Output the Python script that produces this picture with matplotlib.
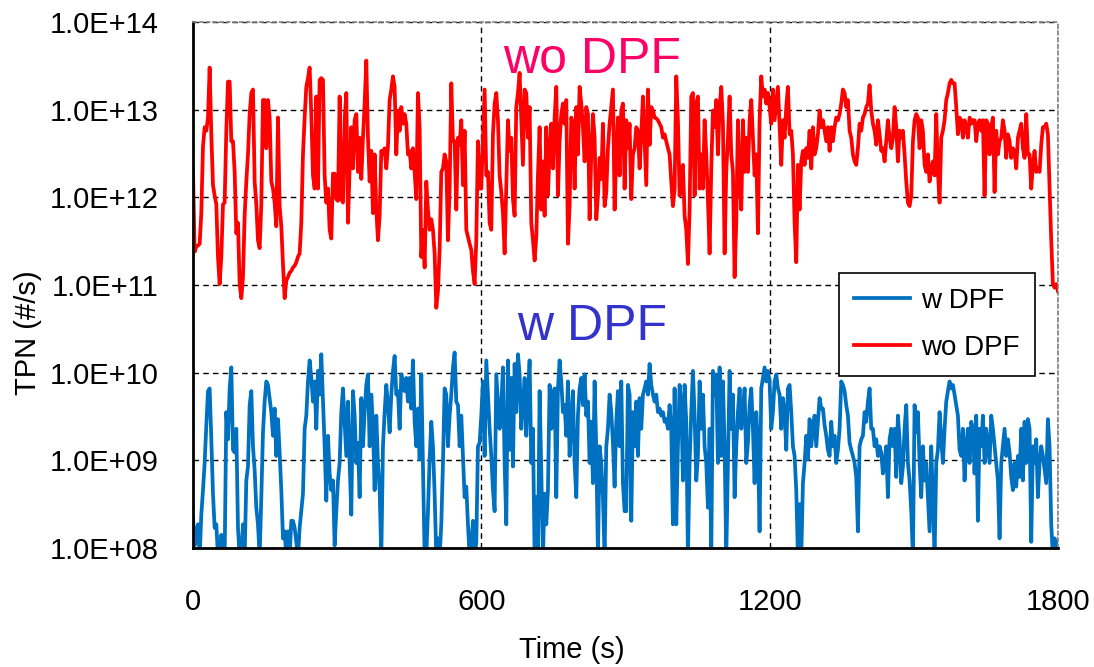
import numpy as np
import matplotlib.pyplot as plt

plt.rcParams['font.family'] = ['Liberation Sans', 'DejaVu Sans']

wo_dpf_log = [
    12.31, 11.38, 11.44, 11.45, 11.47, 11.82, 12.58, 12.80, 12.76, 12.91,
    13.48, 12.72, 12.14, 12.02, 11.92, 11.32, 11.01, 11.32, 11.92, 11.94,
    12.76, 13.32, 13.32, 12.64, 12.64, 12.29, 11.59, 11.71, 11.01, 10.85,
    11.09, 11.79, 12.18, 12.49, 12.95, 13.19, 13.23, 12.18, 11.92, 11.51,
    11.42, 11.92, 13.11, 13.11, 12.56, 13.11, 12.91, 12.18, 12.10, 11.94,
    11.67, 12.91, 11.90, 11.67, 11.24, 10.85, 11.05, 11.09, 11.14, 11.16,
    11.20, 11.22, 11.26, 11.32, 11.36, 11.71, 12.49, 12.91, 13.26, 13.36,
    13.48, 12.95, 12.25, 12.10, 13.15, 12.10, 13.34, 13.36, 13.34, 12.25,
    11.94, 12.10, 11.63, 11.53, 12.27, 12.27,
    11.98, 11.96, 13.15, 11.98, 11.94, 12.88, 13.19, 11.71, 12.33, 12.80,
    12.33, 12.88, 12.95, 12.29, 12.68, 12.21, 12.68, 13.07, 13.56, 12.68,
    12.18, 12.53, 11.82, 12.49, 11.86, 11.51, 11.79, 12.53, 12.49, 12.56,
    12.33, 12.58, 13.11, 13.23, 13.38, 13.26, 12.49, 12.99, 12.76, 13.03,
    12.84, 12.95, 12.84, 12.49, 12.53, 12.33, 12.56, 12.29, 11.98, 13.19,
    12.80, 11.32, 11.63, 11.20, 12.18, 11.86, 11.63, 11.75, 11.63, 11.36,
    10.74, 10.93, 11.40, 12.29, 12.33, 12.49, 12.41, 11.51, 12.10, 13.30,
    12.64, 12.64, 11.86, 12.68, 12.60, 12.88, 12.14, 12.76, 11.63, 11.55,
    11.47, 11.40, 11.16, 11.01, 11.51, 12.64, 12.10,
    12.10, 12.68, 13.23, 12.25, 12.29, 11.71, 11.63, 12.72, 13.07, 13.19,
    12.88, 12.25, 12.06, 11.82, 11.36, 12.10, 12.88, 12.53, 12.68, 11.98,
    11.79, 13.03, 13.19, 13.42, 12.88, 12.37, 13.23, 13.19, 12.68, 13.03,
    11.71, 11.51, 11.28, 11.55, 12.25, 12.80, 11.86, 12.41, 11.79, 12.80,
    12.02, 12.53, 12.84, 12.33, 12.91, 13.26, 12.02, 12.64, 12.95, 13.07,
    12.84, 13.11, 11.47, 11.90, 12.91, 12.84, 12.10, 13.03, 12.49, 13.26,
    13.07, 12.80, 12.41, 13.03, 12.95, 11.75, 12.49, 12.95, 12.68, 11.75,
    12.02, 12.45, 12.21, 12.84, 11.90, 12.06, 12.56, 12.84, 13.03, 13.23,
    11.86, 12.49, 12.91, 12.25, 12.99, 13.07, 12.10,
    12.88, 12.56, 12.84, 11.98, 12.49, 12.56, 12.80, 12.76, 12.33, 12.72,
    13.15, 12.64, 12.14, 13.23, 12.60, 13.03, 12.99, 12.91, 12.90, 12.88,
    12.84, 12.80, 12.68, 12.72, 12.64, 12.56, 12.49, 12.18, 11.90, 12.10,
    13.38, 12.88, 12.02, 12.29, 12.37, 11.79, 11.63, 11.24, 11.86, 13.15,
    13.19, 12.02, 13.07, 13.15, 12.10, 12.49, 12.10, 12.88, 12.49, 11.98,
    11.36, 12.33, 12.99, 12.80, 13.11, 12.49, 13.03, 13.26, 12.84, 11.36,
    12.29, 12.68, 13.15, 12.49, 12.29, 11.09, 11.71, 12.88, 12.21, 11.86,
    12.88, 12.29, 12.68, 12.29, 12.88, 13.11, 12.68, 12.25, 12.49, 11.59,
    12.88, 13.38, 13.15, 13.23, 13.07, 13.19, 13.03,
    12.84, 13.23, 12.88, 13.07, 13.26, 12.80, 12.37, 12.88, 12.68, 13.03,
    13.26, 12.72, 12.76, 12.49, 11.71, 11.26, 12.37, 11.86, 12.41, 12.53,
    12.37, 12.56, 12.45, 12.76, 12.33, 12.80, 12.49, 12.56, 12.72, 12.99,
    12.80, 12.88, 12.76, 12.64, 12.80, 12.53, 12.80, 12.64, 12.80, 12.91,
    12.88, 12.95, 13.07, 13.23, 13.19, 13.03, 13.11, 12.76, 12.68, 12.49,
    12.41, 12.37, 12.56, 12.84, 12.76, 12.91, 12.95, 13.03, 13.07, 13.28,
    12.99, 12.84, 12.76, 12.60, 12.88, 12.72, 12.53, 12.56, 12.41, 12.64,
    12.88, 12.68, 12.56, 12.68, 13.03, 12.80, 12.41, 12.76, 12.68, 12.76,
    12.49, 12.18, 11.94, 11.90, 12.02, 12.64, 12.88,
    12.95, 12.91, 12.56, 12.88, 12.76, 12.37, 12.29, 12.49, 12.18, 12.33,
    12.41, 12.25, 12.95, 12.29, 11.94, 12.68, 12.76, 12.88, 13.11, 13.19,
    13.30, 13.34, 13.30, 13.30, 13.03, 12.72, 12.91, 12.88, 12.68, 12.88,
    12.80, 12.68, 12.91, 12.84, 12.88, 12.88, 12.64, 12.84, 12.88, 12.76,
    12.88, 12.02, 12.88, 12.84, 12.49, 12.80, 12.91, 12.06, 12.76, 12.49,
    12.64, 12.68, 12.88, 12.76, 12.45, 12.72, 12.64, 12.45, 12.56, 12.53,
    12.33, 12.68, 12.76, 12.84, 12.56, 12.45, 12.95, 12.49, 12.49, 12.10,
    12.37, 12.53, 12.29, 12.33, 12.29, 12.60, 12.80, 12.80, 12.84, 12.72,
    12.10, 11.51, 11.01, 10.97, 11.01, 10.93,
]

w_dpf_log = [
    8.35, 8.03, 8.19, 8.27, 7.90, 8.38, 8.66, 8.97, 9.40, 9.79,
    9.82, 9.24, 8.62, 8.23, 8.27, 7.90, 7.90, 8.15, 8.03, 7.90,
    9.55, 9.24, 9.82, 10.06, 9.12, 9.09, 9.36, 8.23, 7.90, 7.90,
    8.27, 7.90, 8.77, 8.93, 9.63, 9.79, 9.16, 8.89, 8.46, 8.27,
    7.90, 8.58, 9.32, 9.67, 9.90, 9.86, 9.71, 9.55, 9.28, 9.59,
    9.05, 9.47, 9.09, 8.66, 8.11, 8.19, 7.90, 8.19, 7.90, 8.31,
    8.31, 8.23, 8.07, 7.90, 8.23, 8.42, 8.62, 9.36, 9.51, 9.90,
    10.14, 9.94, 9.67, 9.90, 9.36, 10.02, 9.75, 10.21, 9.67, 9.16,
    8.54, 9.28, 8.85, 8.66, 8.77, 8.03,
    8.42, 8.77, 8.97, 9.55, 9.82, 9.44, 9.05, 9.67, 8.97, 8.38,
    9.79, 9.51, 8.97, 9.20, 8.58, 9.71, 9.16, 9.55, 9.86, 9.98,
    9.16, 9.75, 9.40, 8.66, 9.51, 8.97, 8.66, 7.90, 9.16, 9.55,
    9.86, 9.63, 9.32, 9.75, 10.02, 10.19, 9.75, 9.79, 9.36, 9.98,
    9.90, 9.79, 9.94, 9.67, 9.94, 9.59, 10.14, 9.44, 9.16, 9.59,
    9.01, 9.98, 8.97, 7.90, 7.90, 8.42, 9.01, 9.44, 9.16, 8.62,
    7.90, 8.11, 7.90, 8.27, 8.97, 9.82, 9.75, 9.16, 9.51, 9.75,
    10.06, 10.23, 9.67, 9.63, 9.16, 9.51, 9.05, 8.58, 8.70, 8.27,
    7.90, 8.03, 8.31, 7.90, 8.07, 9.16, 9.20,
    9.51, 9.90, 9.05, 10.14, 9.75, 9.36, 9.05, 8.66, 8.42, 9.98,
    9.67, 9.36, 9.63, 10.06, 8.97, 8.27, 10.14, 9.12, 9.94, 8.93,
    10.10, 9.55, 10.21, 9.98, 9.36, 9.63, 9.94, 9.28, 9.75, 10.14,
    8.97, 9.36, 7.90, 8.58, 7.90, 9.79, 8.89, 7.90, 8.62, 8.27,
    8.66, 9.86, 9.36, 9.75, 9.82, 8.58, 9.82, 10.14, 9.90, 9.55,
    9.63, 9.28, 9.90, 9.05, 9.44, 9.79, 8.97, 8.58, 9.51, 9.82,
    9.94, 9.63, 9.98, 9.51, 9.67, 8.97, 9.44, 8.74, 9.90, 9.12,
    7.90, 9.16, 8.97, 8.58, 7.90, 9.16, 9.36, 9.75, 9.55, 9.20,
    8.70, 9.44, 9.79, 9.16, 9.90, 8.74, 8.42,
    8.42, 9.86, 9.75, 8.31, 9.55, 9.16, 9.67, 9.05, 9.71, 9.36,
    9.75, 9.82, 9.90, 9.75, 10.10, 9.86, 9.75, 9.67, 9.75, 9.55,
    9.59, 9.51, 9.55, 9.44, 9.47, 9.36, 9.63, 9.36, 8.27, 9.82,
    8.27, 9.16, 9.86, 9.67, 8.77, 9.86, 9.44, 7.90, 8.97, 9.55,
    10.02, 9.51, 8.77, 9.05, 9.90, 9.36, 9.75, 9.16, 8.97, 8.46,
    9.36, 7.90, 10.02, 9.75, 9.98, 8.97, 10.06, 9.05, 9.90, 9.16,
    7.90, 8.97, 10.02, 9.36, 9.75, 8.58, 9.16, 9.55, 9.82, 9.36,
    9.55, 9.82, 8.97, 9.20, 9.63, 9.82, 9.36, 8.74, 9.55, 9.16,
    8.19, 9.82, 9.94, 10.06, 9.90, 10.02, 9.90,
    9.36, 9.55, 9.90, 9.98, 9.82, 9.75, 9.36, 9.71, 9.55, 9.12,
    9.82, 9.86, 9.55, 9.16, 9.05, 8.66, 7.90, 8.50, 7.90, 8.74,
    8.97, 9.28, 9.01, 9.47, 9.16, 9.36, 9.51, 9.16, 9.44, 9.71,
    9.59, 9.59, 9.40, 9.28, 9.12, 9.05, 9.44, 9.16, 9.28, 8.97,
    9.12, 9.36, 9.90, 9.86, 9.79, 9.63, 9.51, 9.20, 9.12, 9.05,
    8.97, 8.81, 8.19, 9.16, 9.24, 9.28, 9.55, 9.44, 9.67, 9.82,
    9.36, 9.36, 9.16, 9.24, 9.05, 9.16, 9.09, 8.85, 8.97, 9.16,
    8.58, 9.24, 9.36, 9.16, 9.36, 8.81, 9.51, 9.24, 8.74, 8.93,
    9.36, 9.63, 8.97, 8.77, 8.42, 7.90, 9.63,
    9.32, 9.55, 8.97, 8.58, 9.16, 8.77, 8.97, 8.58, 8.19, 9.16,
    8.58, 7.90, 8.97, 9.12, 9.55, 9.24, 8.97, 9.36, 9.67, 9.79,
    9.90, 9.82, 9.86, 9.75, 9.63, 9.51, 9.12, 9.05, 9.36, 8.77,
    9.16, 9.36, 8.97, 9.44, 9.36, 8.85, 9.51, 8.31, 9.36, 9.16,
    9.51, 8.97, 9.36, 9.16, 8.97, 9.51, 9.36, 9.16, 8.97, 8.77,
    8.11, 8.97, 9.16, 9.36, 9.05, 9.24, 9.09, 8.81, 8.66, 8.97,
    8.70, 9.05, 8.81, 9.36, 8.77, 9.44, 8.97, 9.47, 9.36, 8.07,
    9.16, 8.97, 9.24, 8.58, 8.97, 9.16, 9.05, 8.89, 8.74, 9.47,
    9.16, 8.27, 7.90, 8.11, 7.90, 8.07,
]

time_s = np.linspace(0, 1800, len(wo_dpf_log))
tpn_wo = 10 ** np.array(wo_dpf_log)
tpn_w = 10 ** np.array(w_dpf_log)

x_ticks = [0, 600, 1200, 1800]
y_ticks = [1e8, 1e9, 1e10, 1e11, 1e12, 1e13, 1e14]
y_labels = ['1.0E+08', '1.0E+09', '1.0E+10', '1.0E+11', '1.0E+12', '1.0E+13', '1.0E+14']

fig = plt.figure(figsize=(10.94, 6.67), dpi=100)
ax = fig.add_axes([0.1764, 0.1784, 0.7906, 0.7886])

ax.plot(time_s, tpn_w, color='#0070C0', lw=2.7, label='w DPF')
ax.plot(time_s, tpn_wo, color='#FF0000', lw=2.7, label='wo DPF')

ax.set_yscale('log')
ax.set_xlim(0, 1800)
ax.set_ylim(1e8, 1e14)
ax.set_xticks(x_ticks)
ax.set_xticklabels([str(v) for v in x_ticks])
ax.set_yticks(y_ticks)
ax.set_yticklabels(y_labels)
ax.minorticks_off()
ax.tick_params(axis='both', length=0, labelsize=21)
ax.tick_params(axis='x', pad=29)
ax.tick_params(axis='y', pad=25)

ax.grid(True, which='major', color='black', linestyle=(0, (4, 3)), linewidth=1.0)
ax.set_axisbelow(True)

for side in ['left', 'bottom']:
    ax.spines[side].set_color('black')
    ax.spines[side].set_linewidth(2)
for side in ['top', 'right']:
    ax.spines[side].set_color('#808080')
    ax.spines[side].set_linestyle((0, (2, 2)))
    ax.spines[side].set_linewidth(1.2)

# axis titles placed like the original
fig.text(572 / 1094, 1 - 650 / 667, 'Time (s)', fontsize=21, ha='center', va='center')
fig.text(28 / 1094, 1 - 333 / 667, 'TPN (#/s)', fontsize=21, rotation=90,
         ha='center', va='center')

ax.text(830, 10 ** 13.57, 'wo DPF', color='#FF0066', fontsize=36,
        ha='center', va='center')
ax.text(830, 10 ** 10.52, 'w DPF', color='#3333CC', fontsize=36,
        ha='center', va='center')

leg = ax.legend(loc='upper left', bbox_to_anchor=(0.747, 0.523), borderaxespad=0,
                fontsize=20, frameon=True, fancybox=False, framealpha=1,
                edgecolor='black', handlelength=2.0, handletextpad=0.4,
                borderpad=0.55, labelspacing=0.75)
leg.get_frame().set_linewidth(1.2)

fig.savefig('out.png', dpi=100)
